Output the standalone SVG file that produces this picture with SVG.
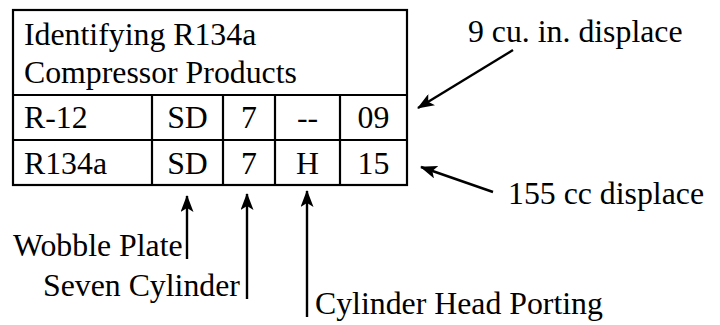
<svg xmlns="http://www.w3.org/2000/svg" width="720" height="325" viewBox="0 0 720 325">
<style>
text{font-family:"Liberation Serif","Times New Roman",serif;font-size:31.8px;fill:#000}
.c{text-anchor:middle}
.grid{fill:none;stroke:#000;stroke-width:2.2}
.arr{fill:none;stroke:#000;stroke-width:2.4;marker-end:url(#ah)}
</style>
<defs>
<marker id="ah" viewBox="0 0 17 13" refX="16" refY="6.5" markerWidth="17" markerHeight="13" orient="auto" markerUnits="userSpaceOnUse">
<path d="M0,0 L17,6.5 L0,13 L4,6.5 Z" fill="#000"/>
</marker>
</defs>
<rect width="720" height="325" fill="#fff"/>
<g id="table">
<rect class="grid" x="13" y="10" width="394" height="175"/>
<line class="grid" x1="13" y1="95" x2="407" y2="95"/>
<line class="grid" x1="13" y1="140" x2="407" y2="140"/>
<line class="grid" x1="152" y1="95" x2="152" y2="185"/>
<line class="grid" x1="223" y1="95" x2="223" y2="185"/>
<line class="grid" x1="275" y1="95" x2="275" y2="185"/>
<line class="grid" x1="340" y1="95" x2="340" y2="185"/>
<text x="24" y="45">Identifying R134a</text>
<text x="24" y="83">Compressor Products</text>
<text x="24" y="128">R-12</text>
<text class="c" x="187.5" y="128">SD</text>
<text class="c" x="249" y="128">7</text>
<text class="c" x="307.5" y="128">--</text>
<text class="c" x="373.5" y="128">09</text>
<text x="24" y="174">R134a</text>
<text class="c" x="187.5" y="174">SD</text>
<text class="c" x="249" y="174">7</text>
<text class="c" x="307.5" y="174">H</text>
<text class="c" x="373.5" y="174">15</text>
</g>
<g id="labels">
<text x="13" y="256">Wobble Plate</text>
<text x="43" y="296">Seven Cylinder</text>
<text x="315" y="314">Cylinder Head Porting</text>
<text x="468" y="42">9 cu. in. displace</text>
<text x="508" y="204">155 cc displace</text>
</g>
<g id="connectors">
<line class="arr" x1="187" y1="259" x2="187" y2="196"/>
<line class="arr" x1="247" y1="299" x2="247" y2="194"/>
<line class="arr" x1="307" y1="317" x2="307" y2="191"/>
<line class="arr" x1="513" y1="50" x2="418" y2="108"/>
<line class="arr" x1="493" y1="192" x2="421" y2="167"/>
</g>
</svg>
